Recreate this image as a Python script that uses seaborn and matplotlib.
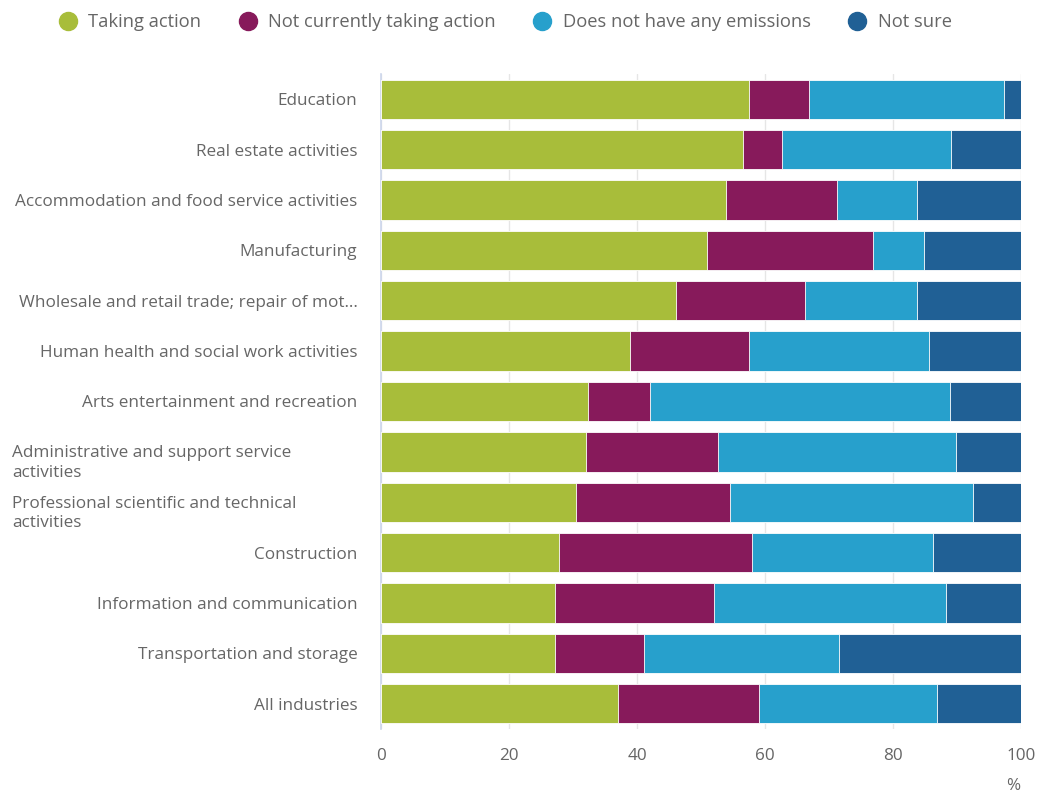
import matplotlib
matplotlib.use("Agg")
import matplotlib.pyplot as plt
from matplotlib.lines import Line2D
from matplotlib.transforms import blended_transform_factory
import seaborn as sns
import numpy as np
import pandas as pd

categories = [
    "Education",
    "Real estate activities",
    "Accommodation and food service activities",
    "Manufacturing",
    "Wholesale and retail trade; repair of mot…",
    "Human health and social work activities",
    "Arts entertainment and recreation",
    "Administrative and support service\nactivities",
    "Professional scientific and technical\nactivities",
    "Construction",
    "Information and communication",
    "Transportation and storage",
    "All industries",
]
series_names = ["Taking action", "Not currently taking action",
                "Does not have any emissions", "Not sure"]
taking_action = [57.5, 56.6, 53.9, 50.9, 46.1, 38.9, 32.4, 32.0, 30.4, 27.8, 27.2, 27.2, 37.0]
not_taking = [9.3, 6.0, 17.3, 25.9, 20.1, 18.6, 9.7, 20.6, 24.1, 30.1, 24.9, 13.9, 22.1]
no_emissions = [30.5, 26.4, 12.5, 8.0, 17.6, 28.1, 46.8, 37.3, 38.0, 28.4, 36.2, 30.5, 27.7]
not_sure = [2.7, 11.0, 16.3, 15.2, 16.2, 14.4, 11.1, 10.1, 7.5, 13.7, 11.7, 28.4, 13.2]
x_ticks = [0, 20, 40, 60, 80, 100]
colors = ["#A8BD3A", "#871A5B", "#27A0CC", "#206095"]

sns.set_theme(style="white")
plt.rcParams["font.family"] = ["Open Sans", "DejaVu Sans"]

df = pd.DataFrame({"cat": categories, "s1": taking_action, "s2": not_taking,
                   "s3": no_emissions, "s4": not_sure})
vals = df[["s1", "s2", "s3", "s4"]].to_numpy()
cum = np.cumsum(vals, axis=1)

fig = plt.figure(figsize=(10.39, 7.93), dpi=100)
ax = fig.add_axes([381 / 1039, 1 - 729 / 793, 640 / 1039, 655 / 793])

text_color = "#666666"
fs = 12.3
for j in range(3, -1, -1):
    sns.barplot(x=cum[:, j], y=df["cat"], orient="h", color=colors[j],
                width=0.78, saturation=1, edgecolor="white", linewidth=0.6,
                ax=ax, zorder=3)

ax.set_xlim(0, 100)
ax.set_ylim(len(categories) - 0.5, -0.5)
ax.set_xticks(x_ticks)
ax.set_xticklabels([str(t) for t in x_ticks], color=text_color, fontsize=fs)
ax.tick_params(axis="x", length=0, pad=14)
ax.grid(axis="x", color="#e6e6e6", linewidth=1, zorder=0)
ax.set_axisbelow(True)
ax.set_xlabel("")
ax.set_ylabel("")

for s in ["top", "right", "bottom"]:
    ax.spines[s].set_visible(False)
ax.spines["left"].set_color("#ccd6eb")
ax.spines["left"].set_linewidth(1.2)

ax.set_yticks(range(len(categories)))
single = [c if "\n" not in c else "" for c in categories]
ax.set_yticklabels(single, color=text_color, fontsize=fs)
ax.tick_params(axis="y", which="major", length=0, pad=17)
ax.set_yticks(np.arange(-0.5, len(categories), 1.0), minor=True)
ax.tick_params(axis="y", which="minor", length=12, width=1.2, color="#ccd6eb")

trans = blended_transform_factory(fig.transFigure, ax.transData)
for i, c in enumerate(categories):
    if "\n" in c:
        ax.text(12 / 1039, i + 0.22, c, transform=trans, ha="left", va="center",
                color=text_color, fontsize=fs, linespacing=1.3)

fig.text(1013 / 1039, 1 - 786 / 793, "%", color=text_color, fontsize=fs,
         ha="center", va="center")

handles = [Line2D([0], [0], marker="o", color="none", markerfacecolor=c,
                  markeredgecolor=c, markersize=13) for c in colors]
leg = fig.legend(handles, series_names, loc="center left",
                 bbox_to_anchor=(57 / 1039, 1 - 22 / 793), ncol=4, frameon=False,
                 fontsize=13.2, handletextpad=0.5, columnspacing=1.95,
                 handlelength=1.2, borderpad=0, borderaxespad=0)
for t in leg.get_texts():
    t.set_color(text_color)

fig.savefig("out.png", dpi=100)
